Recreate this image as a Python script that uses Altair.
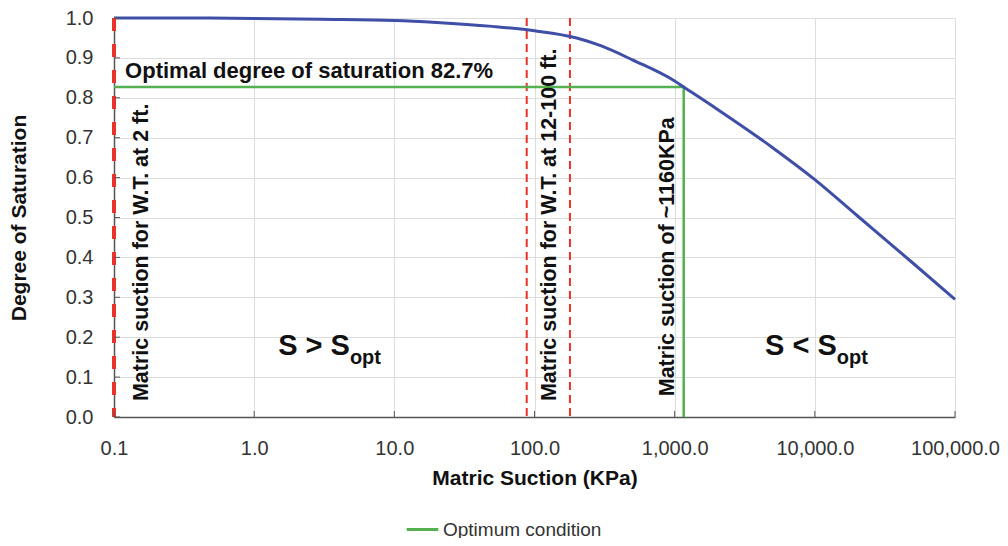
import altair as alt
import pandas as pd

# SWCC curve
suction = [0.1, 0.3, 1, 3, 10, 20, 50, 100, 200, 300, 500, 1000, 1160, 2000, 5000, 10000, 20000, 50000, 100000]
saturation = [1.0, 1.0, 0.999, 0.997, 0.994, 0.989, 0.979, 0.968, 0.950, 0.930, 0.895, 0.842, 0.827, 0.772, 0.675, 0.595, 0.505, 0.386, 0.295]

# optimum condition path
opt_x = [0.1, 1160, 1160]
opt_y = [0.827, 0.827, 0.0]
opt_label = "Optimum condition"

# water-table suction lines
wt_thick = [0.1]
wt_thin = [88, 179]

x_ticks = [0.1, 1, 10, 100, 1000, 10000, 100000]
y_ticks = [0.0, 0.1, 0.2, 0.3, 0.4, 0.5, 0.6, 0.7, 0.8, 0.9, 1.0]

# annotations
rot_text = ["Matric suction for W.T. at 2 ft.", "Matric suction for W.T. at 12-100 ft.", "Matric suction of  ~1160KPa"]
rot_x = [0.158, 129, 890]
rot_y = [0.040, 0.040, 0.052]

FONT = "Liberation Sans"
INK = "#111"
W, H = 841, 399

xs = alt.Scale(type="log", domain=[0.1, 100000])
ys = alt.Scale(domain=[0, 1])

X = alt.X("x:Q", scale=xs, axis=alt.Axis(values=x_ticks, format=",.1f", title="Matric Suction (KPa)",
                                          labelFontSize=20, labelColor="#333", titleFontSize=21,
                                          titleFontWeight="bold", titleColor=INK, labelPadding=21,
                                          titlePadding=9, ticks=False, grid=True, gridColor="#ddd",
                                          labelFlush=False, labelOverlap=False,
                                          domainColor="#555", domainWidth=1.5, labelFont=FONT, titleFont=FONT))
Y = alt.Y("y:Q", scale=ys, axis=alt.Axis(values=y_ticks, format=".1f", title="Degree of Saturation",
                                          labelFontSize=20, labelColor="#333", titleFontSize=21,
                                          titleFontWeight="bold", titleColor=INK, labelPadding=21,
                                          titlePadding=36, ticks=False, grid=True, gridColor="#ddd",
                                          labelFlush=False, labelOverlap=False,
                                          domainColor="#555", domainWidth=1.5, labelFont=FONT, titleFont=FONT))

curve_df = pd.DataFrame({"x": suction, "y": saturation})
opt_df = pd.DataFrame({"x": opt_x, "y": opt_y, "o": [0, 1, 2], "s": [opt_label] * 3})
thick_df = pd.DataFrame({"x": wt_thick})
thin_df = pd.DataFrame({"x": wt_thin})
rot_df = pd.DataFrame({"x": rot_x, "y": rot_y, "t": rot_text})
xt_df = pd.DataFrame({"x": x_ticks})
yt_df = pd.DataFrame({"y": y_ticks})

xtick = alt.Chart(xt_df).mark_rule(color="#555", strokeWidth=1).encode(x=X, y=alt.value(H), y2=alt.value(H - 6))
ytick = alt.Chart(yt_df).mark_rule(color="#555", strokeWidth=1).encode(y=Y, x=alt.value(0), x2=alt.value(6))

curve = alt.Chart(curve_df).mark_line(color="#3f4ea6", strokeWidth=3, interpolate="monotone").encode(x=X, y=Y)

optline = alt.Chart(opt_df).mark_line(strokeWidth=2.5).encode(
    x=X, y=Y, order="o:Q",
    color=alt.Color("s:N", scale=alt.Scale(domain=[opt_label], range=["#55b04f"]),
                    legend=alt.Legend(title=None, orient="none", legendX=291, legendY=494,
                                      symbolType="stroke", symbolStrokeWidth=3, symbolSize=1000,
                                      labelFontSize=19, labelColor="#333", labelFont=FONT,
                                      labelOffset=3, labelLimit=400)))

thick = alt.Chart(thick_df).mark_rule(color="#e8322a", strokeWidth=4, strokeDash=[13, 13]).encode(x=X)
thin = alt.Chart(thin_df).mark_rule(color="#e8322a", strokeWidth=2, strokeDash=[8, 5]).encode(x=X)

rot = alt.Chart(rot_df).mark_text(angle=270, align="left", baseline="middle", fontSize=21.5,
                                  fontWeight="bold", font=FONT, color=INK).encode(x=X, y=Y, text="t:N")

opt_text = alt.Chart(pd.DataFrame({"x": [0.12], "y": [0.868], "t": ["Optimal degree of saturation 82.7%"]})).mark_text(
    align="left", baseline="middle", fontSize=22, fontWeight="bold", font=FONT, color=INK).encode(x=X, y=Y, text="t:N")

big_df = pd.DataFrame({"x": [4.82, 14360], "y": [0.178, 0.178], "t": ["S > S", "S < S"]})
sub_df = pd.DataFrame({"x": [4.82, 14360], "y": [0.147, 0.147], "t": ["opt", "opt"]})
big = alt.Chart(big_df).mark_text(align="right", baseline="middle", fontSize=29, fontWeight="bold",
                                  font=FONT, color=INK).encode(x=X, y=Y, text="t:N")
sub = alt.Chart(sub_df).mark_text(align="left", baseline="middle", fontSize=20, fontWeight="bold",
                                  font=FONT, color=INK).encode(x=X, y=Y, text="t:N")

chart = alt.layer(thin, optline, curve, thick, xtick, ytick, rot, opt_text, big, sub).properties(
    width=W, height=H, autosize=alt.AutoSizeParams(type="none"),
    padding={"left": 106, "top": 10, "right": 45, "bottom": 121}
).configure_view(stroke="#555", strokeWidth=1.5).configure(background="white")

chart.save("out.html", embed_options={"renderer": "svg", "actions": False})
